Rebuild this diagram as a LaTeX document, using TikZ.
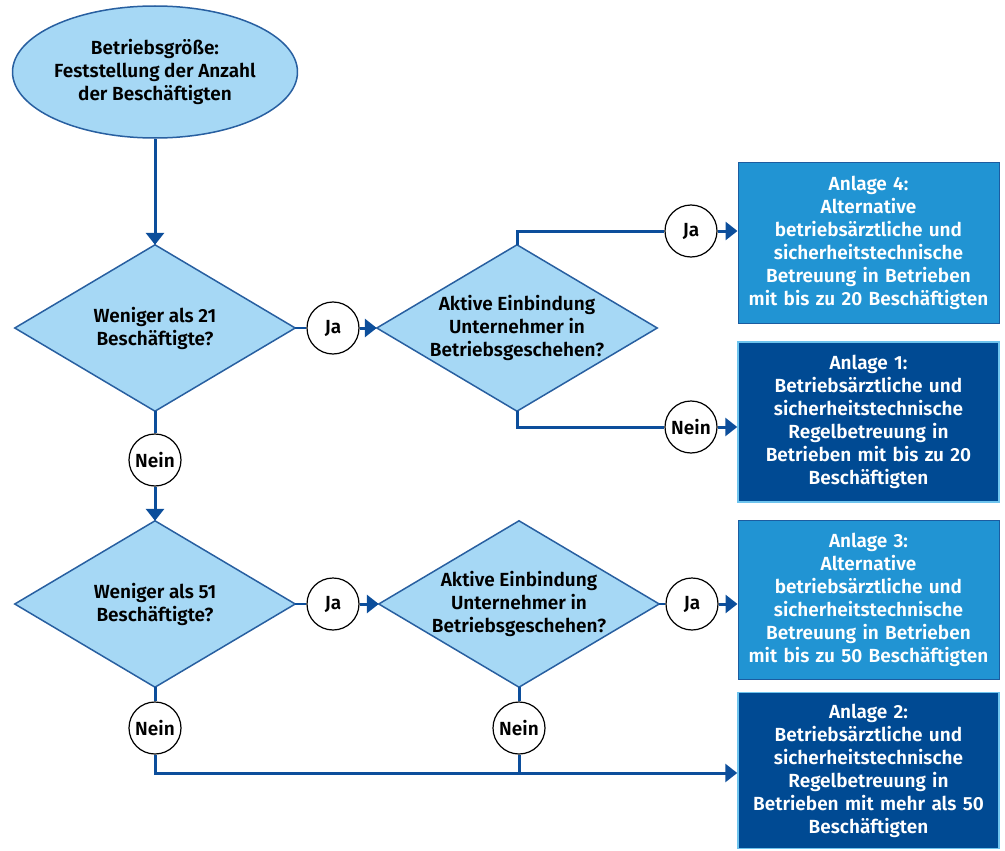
\documentclass[tikz,border=0pt]{standalone}
\usepackage{fontspec}
\setmainfont{Fira Sans}[UprightFont={* SemiBold},BoldFont={* Bold}]
\usetikzlibrary{arrows.meta,shapes.geometric,backgrounds}
\definecolor{lightfill}{RGB}{166,216,245}
\definecolor{shapeborder}{RGB}{40,95,160}
\definecolor{linecol}{RGB}{12,78,155}
\definecolor{midbox}{RGB}{33,148,211}
\definecolor{midboxborder}{RGB}{28,92,160}
\definecolor{darkbox}{RGB}{0,74,147}
\definecolor{darkboxborder}{RGB}{110,196,238}
\begin{document}
\begin{tikzpicture}[x=1pt,y=-1pt,
 every node/.style={font=\fontsize{19}{23}\selectfont, align=center},
 decisionbox/.style={rectangle, minimum width=280pt, minimum height=166pt, inner sep=0pt},
 diamondpath/.style={fill=lightfill, draw=shapeborder, line width=1.5pt, line join=miter},
 startnode/.style={ellipse, fill=lightfill, draw=shapeborder, line width=1.5pt, minimum width=280pt, minimum height=132pt, inner sep=0pt},
 answer/.style={circle, draw=black, line width=1.2pt, fill=white, minimum size=52pt, inner sep=0pt},
 resultmid/.style={rectangle, fill=midbox, draw=midboxborder, line width=1pt, text=white, minimum width=261pt, text width=258pt, inner sep=0pt},
 resultdark/.style={rectangle, fill=darkbox, draw=darkboxborder, line width=1.5pt, text=white, minimum width=261pt, text width=258pt, inner sep=0pt},
 conn/.style={draw=linecol, line width=3pt},
 arr/.style={conn, -{Triangle[length=12pt,width=18pt]}},
 thinconn/.style={draw=linecol, line width=1.3pt}
]
\useasboundingbox (0,0) rectangle (1005,851);

\node[startnode] (start) at (155,72) {Betriebsgröße:\\Feststellung der Anzahl\\der Beschäftigten};

\node[decisionbox] (d1) at (155,328) {Weniger als 21\\Beschäftigte?};
\node[decisionbox] (d2) at (517,328) {Aktive Einbindung\\Unternehmer in\\Betriebsgeschehen?};
\node[decisionbox] (d3) at (155,604) {Weniger als 51\\Beschäftigte?};
\node[decisionbox] (d4) at (519,604) {Aktive Einbindung\\Unternehmer in\\Betriebsgeschehen?};

\begin{scope}[on background layer]
\foreach \d in {d1,d2,d3,d4}
  \draw[diamondpath] (\d.north) -- (\d.east) -- (\d.south) -- (\d.west) -- cycle;
\end{scope}

\node[resultmid] (box4) at (868.5,242.5) [minimum height=161pt] {Anlage 4:\\Alternative\\betriebsärztliche und\\sicherheitstechnische\\Betreuung in Betrieben\\mit bis zu 20 Beschäftigten};
\node[resultdark] (box1) at (868.5,422) [minimum height=160pt] {Anlage 1:\\Betriebsärztliche und\\sicherheitstechnische\\Regelbetreuung in\\Betrieben mit bis zu 20\\Beschäftigten};
\node[resultmid] (box3) at (868.5,599.5) [minimum height=159pt] {Anlage 3:\\Alternative\\betriebsärztliche und\\sicherheitstechnische\\Betreuung in Betrieben\\mit bis zu 50 Beschäftigten};
\node[resultdark] (box2) at (868.5,770.5) [minimum height=156pt] {Anlage 2:\\Betriebsärztliche und\\sicherheitstechnische\\Regelbetreuung in\\Betrieben mit mehr als 50\\Beschäftigten};

\node[answer] (ja1) at (333,328) {Ja};
\node[answer] (ja2) at (691,231) {Ja};
\node[answer] (nein2) at (691,427) {Nein};
\node[answer] (nein1) at (155,460) {Nein};
\node[answer] (ja3) at (333,604) {Ja};
\node[answer] (ja4) at (692,604) {Ja};
\node[answer] (nein3) at (155,728) {Nein};
\node[answer] (nein4) at (519,728) {Nein};
\coordinate (join) at (519,773);

\draw[arr] (start.south) -- (d1.north);
\draw[thinconn] (d1.east) -- (ja1.west);
\draw[arr] (ja1.east) -- (d2.west);
\draw[conn] (d2.north) |- (ja2.west);
\draw[arr] (ja2.east) -- (ja2.east -| box4.west);
\draw[conn] (d2.south) |- (nein2.west);
\draw[arr] (nein2.east) -- (nein2.east -| box1.west);
\draw[conn] (d1.south) -- (nein1.north);
\draw[arr] (nein1.south) -- (d3.north);
\draw[thinconn] (d3.east) -- (ja3.west);
\draw[arr] (ja3.east) -- (d4.west);
\draw[thinconn] (d4.east) -- (ja4.west);
\draw[arr] (ja4.east) -- (ja4.east -| box3.west);
\draw[conn] (d3.south) -- (nein3.north);
\draw[conn] (d4.south) -- (nein4.north);
\draw[conn] (nein4.south) -- (join);
\draw[arr] (nein3.south) |- (join -| box2.west);
\end{tikzpicture}
\end{document}
